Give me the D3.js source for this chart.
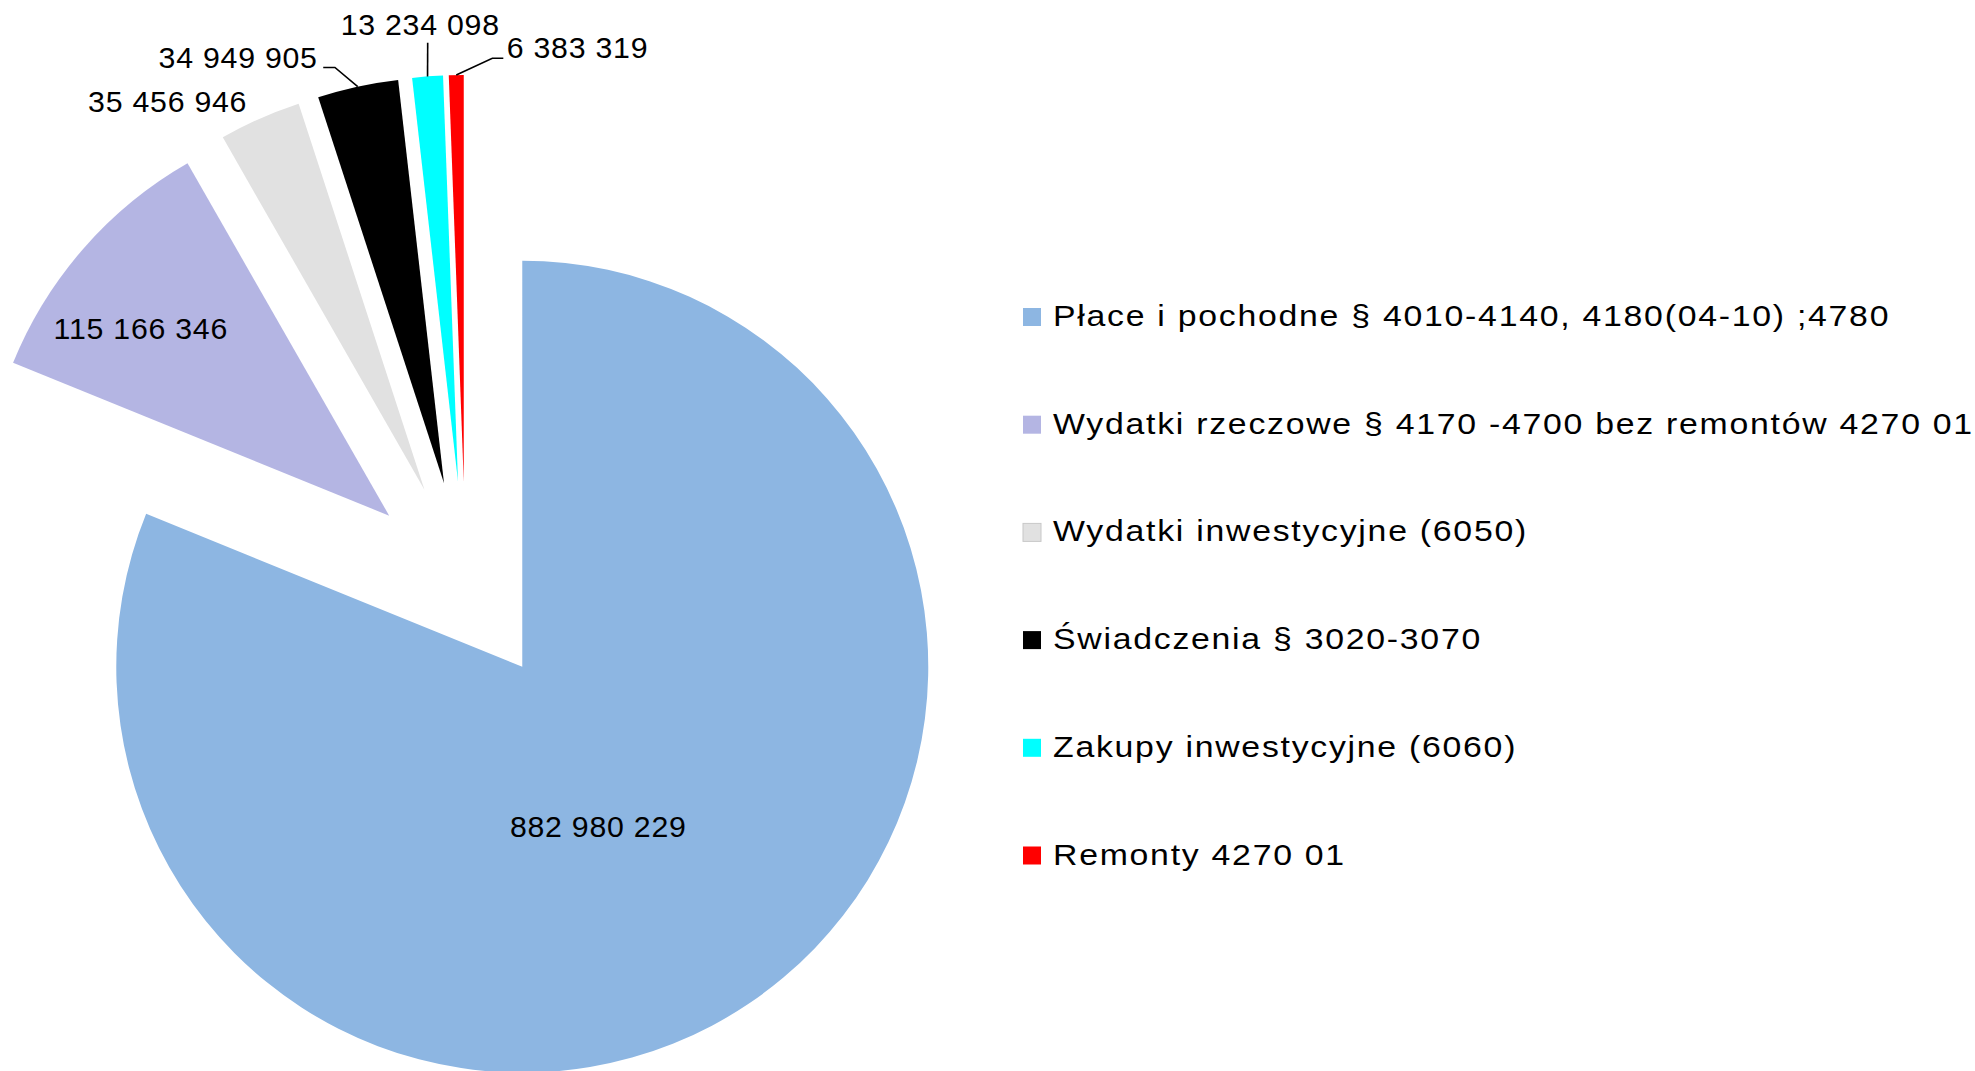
<!DOCTYPE html>
<html>
<head>
<meta charset="utf-8">
<script src="https://cdn.jsdelivr.net/npm/d3@7/dist/d3.min.js"></script>
<style>
  html, body { margin: 0; padding: 0; background: #ffffff; }
  svg { display: block; font-family: "Liberation Sans", Arial, sans-serif; }
</style>
</head>
<body>
<script>
// Expenditure structure (PLN)
const categories = [
  "Płace i pochodne § 4010-4140, 4180(04-10) ;4780",
  "Wydatki rzeczowe § 4170 -4700 bez remontów 4270 01",
  "Wydatki inwestycyjne (6050)",
  "Świadczenia § 3020-3070",
  "Zakupy inwestycyjne (6060)",
  "Remonty 4270 01"
];
const values = [882980229, 115166346, 35456946, 34949905, 13234098, 6383319];
const colors = ["#8db6e2", "#b4b5e3", "#e1e1e1", "#000000", "#00ffff", "#ff0000"];

// Where each value label sits, in polar terms around its own (exploded) slice centre:
// angle in degrees clockwise from 12 o'clock, radius as a multiple of the pie radius.
const labelLayout = [
  { angle: 154.7, radius: 0.438, leader: null, anchor: "middle", dx: 0, dy: 10 },
  { angle: 307.0, radius: 0.766, leader: null, anchor: "middle", dx: 0, dy: 10 },
  { angle: 326.5, radius: 1.146, leader: null, anchor: "middle", dx: 0, dy: 10 },
  { angle: 345.3, radius: 1.059, leader: "h", run: -11.7, anchor: "end", dx: -5.5, dy: 1 },
  { angle: 356.05, radius: 1.083, leader: "v", run: 0, anchor: "middle", dx: -7.5, dy: -7.7 },
  { angle: 3.87, radius: 1.0436, leader: "h", run: 11, anchor: "start", dx: 3.4, dy: 0 }
];

const W = 1975, H = 1071;
const cx = 465.6, cy = 582.5, R = 406, explode = 0.25 * R;

const data = categories.map((c, i) => ({ name: c, value: values[i], color: colors[i], layout: labelLayout[i] }));

const locale = d3.formatLocale({ decimal: ",", thousands: " ", grouping: [3], currency: ["", " zł"] });
const fmt = locale.format(",d");

const svg = d3.select("body").append("svg")
  .attr("width", W).attr("height", H)
  .attr("viewBox", `0 0 ${W} ${H}`);

svg.append("rect").attr("width", W).attr("height", H).attr("fill", "#ffffff");

const pie = d3.pie().sort(null).value(d => d.value).startAngle(0).endAngle(2 * Math.PI);
const arc = d3.arc().innerRadius(0).outerRadius(R);
const arcs = pie(data);

const rad = deg => deg * Math.PI / 180;
const polar = (p, a, r) => [p[0] + r * Math.sin(a), p[1] - r * Math.cos(a)];

arcs.forEach(a => {
  const mid = (a.startAngle + a.endAngle) / 2;
  a.center = [cx + explode * Math.sin(mid), cy - explode * Math.cos(mid)];
  a.mid = mid;
});

// slices, every one pulled out from the centre along its bisector
svg.append("g").selectAll("path")
  .data(arcs)
  .join("path")
  .attr("transform", d => `translate(${d.center[0]},${d.center[1]})`)
  .attr("d", arc)
  .attr("fill", d => d.data.color);

// value labels and leader lines (text is set slightly wide)
const labelStretch = 1.06;
const labels = svg.append("g")
  .attr("font-size", 28.6)
  .attr("fill", "#000")
  .style("letter-spacing", "0.7px");

arcs.forEach(a => {
  const L = a.data.layout;
  let pos = polar(a.center, rad(L.angle), L.radius * R);
  if (L.leader) {
    const start = polar(a.center, a.mid, R);
    const pts = [start, pos];
    if (L.leader === "h") pts.push([pos[0] + L.run, pos[1]]);
    svg.append("path")
      .attr("d", d3.line()(pts))
      .attr("fill", "none")
      .attr("stroke", "#000")
      .attr("stroke-width", 1.6);
    pos = pts[pts.length - 1];
  }
  labels.append("text")
    .attr("transform", `translate(${pos[0] + L.dx},${pos[1] + L.dy}) scale(${labelStretch},1)`)
    .attr("text-anchor", L.anchor)
    .text(fmt(a.data.value));
});

// legend
const legendStretch = 1.12;
const legend = svg.append("g")
  .attr("transform", "translate(1023,326)")
  .attr("font-size", 30.2)
  .style("letter-spacing", "1.55px");

const item = legend.selectAll("g")
  .data(data)
  .join("g")
  .attr("transform", (d, i) => `translate(0,${i * 107.7})`);

item.append("rect")
  .attr("x", 0).attr("y", -18)
  .attr("width", 18).attr("height", 18)
  .attr("fill", d => d.color)
  .attr("stroke", d => d.color === "#e1e1e1" ? "#c8c8c8" : "none")
  .attr("stroke-width", 1);

item.append("text")
  .attr("transform", `translate(30,0) scale(${legendStretch},1)`)
  .attr("fill", "#000")
  .text(d => d.name);
</script>
</body>
</html>
